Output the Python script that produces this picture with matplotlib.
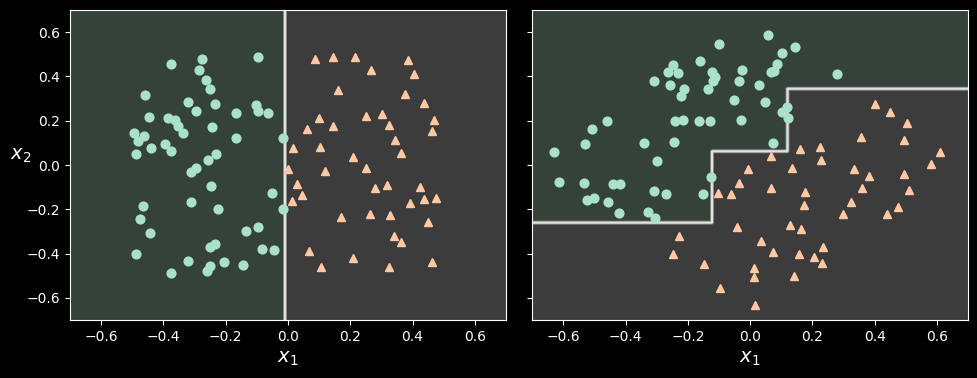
import matplotlib
matplotlib.use("Agg")
import matplotlib.pyplot as plt
import numpy as np

plt.style.use("dark_background")

# left panel: original data (class 0 = circles, class 1 = triangles)
left_x0 = [-0.095, -0.276, -0.375, -0.285, -0.263, -0.249, -0.459, -0.321, -0.234, -0.295,
           -0.102, -0.095, -0.063, -0.166, -0.446, -0.385, -0.362, -0.353, -0.337, -0.243,
           -0.494, -0.462, -0.481, -0.166, -0.015, -0.395, -0.440, -0.375, -0.488, -0.231,
           -0.256, -0.296, -0.313, -0.247, -0.050, -0.465, -0.311, -0.224, -0.015, -0.475,
           -0.095, -0.134, -0.443, -0.234, -0.251, -0.083, -0.044, -0.488, -0.321, -0.206,
           -0.144, -0.250, -0.261, -0.375]
left_y0 = [0.486, 0.477, 0.455, 0.428, 0.383, 0.345, 0.315, 0.283, 0.274, 0.244,
           0.270, 0.243, 0.234, 0.234, 0.218, 0.211, 0.203, 0.178, 0.146, 0.170,
           0.145, 0.132, 0.110, 0.121, 0.121, 0.093, 0.078, 0.062, 0.048, 0.048,
           0.021, -0.012, -0.030, -0.096, -0.128, -0.187, -0.167, -0.200, -0.200, -0.245,
           -0.281, -0.299, -0.308, -0.358, -0.372, -0.381, -0.385, -0.403, -0.435, -0.439,
           -0.453, -0.456, -0.479, -0.489]
left_x1 = [0.088, 0.146, 0.216, 0.387, 0.268, 0.406, 0.162, 0.377, 0.438, 0.101,
           0.249, 0.303, 0.470, 0.146, 0.326, 0.062, 0.464, 0.345, 0.017, 0.104,
           0.364, 0.210, 0.001, 0.120, 0.252, 0.030, 0.046, 0.014, 0.281, 0.319,
           0.425, 0.393, 0.438, 0.474, 0.171, 0.265, 0.329, 0.451, 0.339, 0.364,
           0.068, 0.210, 0.107, 0.323, 0.461]
left_y1 = [0.479, 0.488, 0.488, 0.476, 0.429, 0.411, 0.339, 0.321, 0.279, 0.212,
           0.221, 0.230, 0.203, 0.176, 0.181, 0.163, 0.154, 0.113, 0.077, 0.081,
           0.054, 0.036, -0.018, -0.026, -0.012, -0.086, -0.136, -0.163, -0.104, -0.090,
           -0.099, -0.172, -0.154, -0.149, -0.235, -0.221, -0.226, -0.257, -0.321, -0.348,
           -0.388, -0.420, -0.461, -0.461, -0.438]

# right panel: rotated data
right_x0 = [-0.100, -0.161, -0.247, -0.262, -0.231, -0.123, -0.112, -0.026, -0.308, -0.257,
            -0.119, -0.035, -0.212, -0.222, -0.135, -0.051, -0.459, -0.241, -0.214, -0.164,
            -0.128, -0.029, -0.508, -0.530, -0.341, -0.244, -0.630, -0.299, 0.058, 0.145,
            0.103, 0.087, 0.067, 0.077, 0.279, 0.029, 0.048, 0.103, 0.119, 0.122,
            0.074, -0.614, -0.533, -0.440, -0.418, -0.308, -0.270, -0.125, -0.152, -0.524,
            -0.501, -0.456, -0.421, -0.328, -0.305]
right_y0 = [0.545, 0.468, 0.450, 0.419, 0.417, 0.420, 0.396, 0.428, 0.378, 0.360,
            0.378, 0.378, 0.342, 0.310, 0.342, 0.292, 0.197, 0.197, 0.202, 0.197,
            0.197, 0.202, 0.161, 0.093, 0.098, 0.103, 0.057, 0.017, 0.586, 0.532,
            0.505, 0.456, 0.419, 0.425, 0.410, 0.360, 0.283, 0.238, 0.261, 0.211,
            0.098, -0.078, -0.083, -0.087, -0.087, -0.119, -0.132, -0.056, -0.132, -0.158,
            -0.150, -0.168, -0.218, -0.214, -0.241]
right_x1 = [0.402, 0.450, 0.504, 0.357, 0.495, 0.161, 0.225, 0.067, 0.228, 0.610,
            0.581, 0.135, 0.334, -0.007, 0.495, -0.035, -0.103, -0.061, -0.042, -0.228,
            -0.247, -0.148, -0.096, 0.382, 0.067, 0.177, 0.360, 0.511, 0.173, 0.324,
            0.299, 0.475, 0.440, 0.128, 0.164, 0.035, 0.234, 0.074, 0.157, 0.206,
            0.231, 0.013, 0.013, 0.141, 0.016]
right_y1 = [0.276, 0.239, 0.190, 0.126, 0.113, 0.072, 0.083, 0.041, 0.023, 0.057,
            0.005, -0.015, -0.018, -0.018, -0.039, -0.080, -0.125, -0.130, -0.281, -0.322,
            -0.401, -0.446, -0.554, -0.048, -0.103, -0.121, -0.103, -0.112, -0.179, -0.166,
            -0.220, -0.188, -0.220, -0.270, -0.288, -0.342, -0.369, -0.392, -0.401, -0.415,
            -0.441, -0.464, -0.506, -0.500, -0.631]

# tree thresholds
left_split = -0.01
right_x_splits = [-0.122, 0.121]
right_y_splits = [-0.261, 0.063, 0.345]

bg_colors = ["#354239", "#3c3c3c"]
marker_colors = ["#a9e2c9", "#ffc8a2"]


def predict_left(x1, x2):
    return (x1 > left_split).astype(float)


def predict_right(x1, x2):
    a, b = right_x_splits
    y1, y2, y3 = right_y_splits
    out = np.where(x1 <= a, x2 < y1, np.where(x1 <= b, x2 < y2, x2 < y3))
    return out.astype(float)


def plot_panel(ax, predict, xs0, ys0, xs1, ys1):
    g1, g2 = np.meshgrid(np.linspace(-0.7, 0.7, 700), np.linspace(-0.7, 0.7, 700))
    z = predict(g1, g2)
    ax.contourf(g1, g2, z, levels=[-0.5, 0.5, 1.5], colors=bg_colors)
    ax.contour(g1, g2, z, levels=[0.5], colors="#8a8a8a", linewidths=2.8)
    ax.contour(g1, g2, z, levels=[0.5], colors="#e2e2e2", linewidths=1.5)
    ax.plot(xs0, ys0, "o", color=marker_colors[0], ms=6.3, linestyle="none")
    ax.plot(xs1, ys1, "^", color=marker_colors[1], ms=6.3, linestyle="none")
    ax.set_xlim(-0.7, 0.7)
    ax.set_ylim(-0.7, 0.7)
    ax.set_xlabel("$x_1$", fontsize=14)


fig, axes = plt.subplots(ncols=2, figsize=(9.78, 3.78), dpi=100, sharey=True)
fig.subplots_adjust(left=0.0716, right=0.9898, bottom=0.1534, top=0.9735, wspace=0.06)

plot_panel(axes[0], predict_left, left_x0, left_y0, left_x1, left_y1)
plot_panel(axes[1], predict_right, right_x0, right_y0, right_x1, right_y1)
axes[0].set_ylabel("$x_2$", fontsize=14, rotation=0)

fig.savefig("out.png", dpi=100, facecolor="black")
